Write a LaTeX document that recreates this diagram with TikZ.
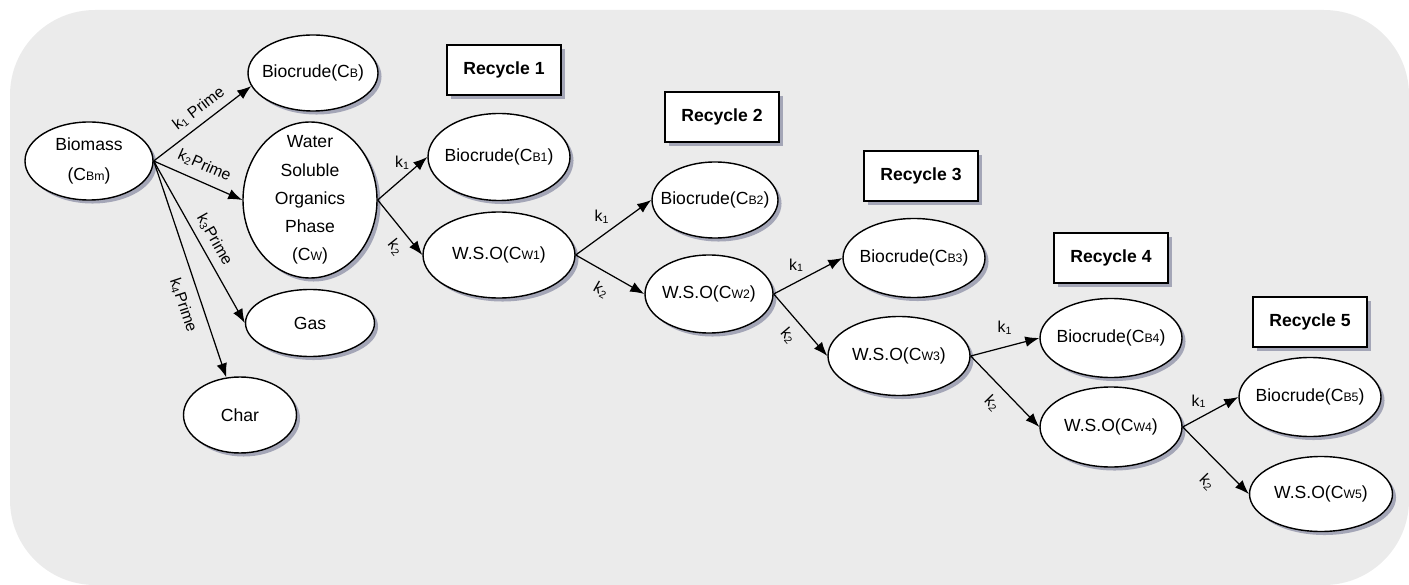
\documentclass[tikz,border=0pt]{standalone}
\usepackage{fontspec}
\setmainfont{Liberation Sans}
\usepackage{tikz}
\usetikzlibrary{arrows.meta,positioning,shapes.geometric,shadows}
\definecolor{PanelGrey}{HTML}{EBEBEB}
\definecolor{ShadowNavy}{HTML}{3A3F6B}
\newcommand{\lo}[1]{{\scriptsize #1}}

\begin{document}
\begin{tikzpicture}[
  blob/.style={draw,ellipse,line width=0.8pt,fill=white,align=center,
    minimum width=2.84cm,minimum height=1.58cm,inner xsep=-12pt,inner ysep=-4pt,
    drop shadow={fill=ShadowNavy,opacity=0.4,shadow xshift=2pt,shadow yshift=-2pt}},
  tag/.style={draw,line width=0.8pt,fill=white,font=\bfseries,
    minimum width=2.28cm,minimum height=1cm,
    drop shadow={fill=ShadowNavy,opacity=0.4,shadow xshift=2pt,shadow yshift=-2pt}},
  flow/.style={line width=0.7pt,-{Latex[length=8pt,width=6pt]}},
  klab/.style={font=\small,inner sep=2pt},
  on grid]
  \useasboundingbox (0,0) rectangle (28.18,-11.7);
  \fill[PanelGrey,rounded corners=1.7cm] (0.2,-0.2) rectangle (28.18,-11.7);

  % first stage
  \node[blob,minimum width=2.56cm,minimum height=1.56cm,font=\fontsize{10}{17}\selectfont] (bm) at (1.78,-3.22) {Biomass\\(C\lo{Bm})};
  \node[blob,minimum width=2.6cm,minimum height=1.52cm,above right=1.76cm and 4.48cm of bm] (cb) {Biocrude(C\lo{B})};
  \node[blob,minimum width=2.68cm,minimum height=3.12cm,inner ysep=-9pt,font=\fontsize{10}{16}\selectfont,below right=0.78cm and 4.42cm of bm] (wsp) {Water\\Soluble\\Organics\\Phase\\(C\lo{W})};
  \node[blob,minimum width=2.58cm,minimum height=1.34cm,below=2.46cm of wsp] (gas) {Gas};
  \node[blob,minimum width=2.26cm,minimum height=1.52cm,below left=1.84cm and 1.4cm of gas] (char) {Char};

  % recycle 1
  \node[blob,minimum height=1.74cm,above right=0.86cm and 3.78cm of wsp] (cb1) {Biocrude(C\lo{B1})};
  \node[blob,minimum width=3.04cm,minimum height=1.72cm,below=1.96cm of cb1] (cw1) {W.S.O(C\lo{W1})};
  \node[tag,above=1.74cm of cb1,xshift=0.1cm] (r1) {Recycle 1};

  % recycle 2
  \node[blob,minimum width=2.52cm,minimum height=1.52cm,above right=1.1cm and 4.32cm of cw1] (cb2) {Biocrude(C\lo{B2})};
  \node[blob,minimum width=2.56cm,minimum height=1.56cm,below right=0.78cm and 4.2cm of cw1] (cw2) {W.S.O(C\lo{W2})};
  \node[tag,above=1.66cm of cb2,xshift=0.14cm] (r2) {Recycle 2};

  % recycle 3
  \node[blob,above right=0.72cm and 4.1cm of cw2] (cb3) {Biocrude(C\lo{B3})};
  \node[blob,below right=1.24cm and 3.8cm of cw2] (cw3) {W.S.O(C\lo{W3})};
  \node[tag,above=1.64cm of cb3,xshift=0.14cm] (r3) {Recycle 3};

  % recycle 4
  \node[blob,above right=0.36cm and 4.24cm of cw3] (cb4) {Biocrude(C\lo{B4})};
  \node[blob,minimum height=1.6cm,below right=1.42cm and 4.24cm of cw3] (cw4) {W.S.O(C\lo{W4})};
  \node[tag,above=1.6cm of cb4] (r4) {Recycle 4};

  % recycle 5
  \node[blob,above right=0.6cm and 3.98cm of cw4] (cb5) {Biocrude(C\lo{B5})};
  \node[blob,minimum width=2.86cm,minimum height=1.5cm,below right=1.34cm and 4.2cm of cw4] (cw5) {W.S.O(C\lo{W5})};
  \node[tag,above=1.5cm of cb5] (r5) {Recycle 5};

  % biomass routes
  \draw[flow] (bm.east) -- (cb.192) node[klab,pos=.55,sloped,above=2pt]{k\textsubscript{1} Prime};
  \draw[flow] (bm.east) -- (wsp.west) node[klab,midway,sloped,above=3pt]{k\textsubscript{2}Prime};
  \draw[flow] (bm.east) -- (gas.west) node[klab,pos=.53,sloped,above=2pt]{k\textsubscript{3}Prime};
  \draw[flow] (bm.east) -- (char.110) node[klab,pos=.64,sloped,below=4pt]{k\textsubscript{4}Prime};

  % recycle routes
  \draw[flow] (wsp.east) -- (cb1.west) node[klab,midway,above=3pt]{k\textsubscript{1}};
  \draw[flow] (wsp.east) -- (cw1.west) node[klab,pos=.68,sloped,below=3pt]{k\textsubscript{2}};
  \draw[flow] (cw1.east) -- (cb2.west) node[klab,midway,above left]{k\textsubscript{1}};
  \draw[flow] (cw1.east) -- (cw2.west) node[klab,midway,sloped,below=4pt]{k\textsubscript{2}};
  \draw[flow] (cw2.east) -- (cb3.west) node[klab,midway,above left]{k\textsubscript{1}};
  \draw[flow] (cw2.east) -- (cw3.west) node[klab,midway,sloped,below=3pt]{k\textsubscript{2}};
  \draw[flow] (cw3.east) -- (cb4.west) node[klab,midway,above=5pt]{k\textsubscript{1}};
  \draw[flow] (cw3.east) -- (cw4.west) node[klab,midway,sloped,below=4pt]{k\textsubscript{2}};
  \draw[flow] (cw4.east) -- (cb5.west) node[klab,midway,above left]{k\textsubscript{1}};
  \draw[flow] (cw4.east) -- (cw5.west) node[klab,pos=.6,sloped,below=6pt]{k\textsubscript{2}};
\end{tikzpicture}
\end{document}
